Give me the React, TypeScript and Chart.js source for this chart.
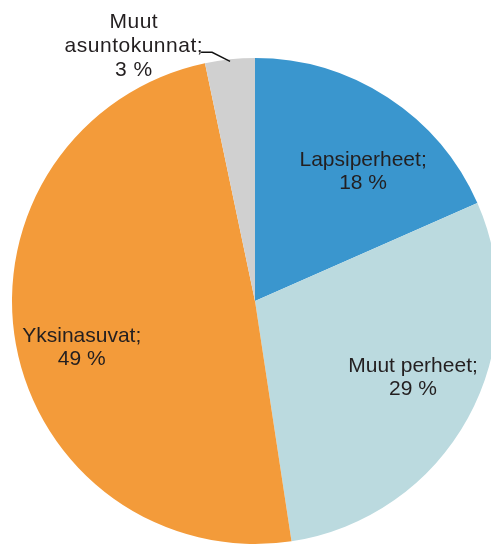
import React, { useEffect, useRef } from "react";
import { Chart, registerables } from "chart.js";

Chart.register(...registerables);

const categories = ["Lapsiperheet", "Muut perheet", "Yksinasuvat", "Muut asuntokunnat"];
const shares = [18.4, 29.2, 49.1, 3.3];
const percentLabels = ["18 %", "29 %", "49 %", "3 %"];
const sliceColors = ["#3A96CE", "#BBDADF", "#F39B3A", "#D0D0D0"];

// label layout: [angle shift in degrees from slice middle, radius factor]; null = outside with leader
const labelLayout: ([number, number] | null)[] = [[6.4, 0.699], [-3.55, 0.719], [-4.4, 0.737], null];

const FONT = '21px "Liberation Sans", Arial, sans-serif';
const TEXT_COLOR = "#231F20";

const labelPlugin = {
  id: "sliceLabels",
  afterDatasetsDraw(chart: any) {
    const ctx: CanvasRenderingContext2D = chart.ctx;
    const meta = chart.getDatasetMeta(0);
    ctx.save();
    ctx.font = FONT;
    ctx.fillStyle = TEXT_COLOR;
    meta.data.forEach((arc: any, i: number) => {
      const p = arc.getProps(["x", "y", "startAngle", "endAngle", "outerRadius"], true);
      const mid = (p.startAngle + p.endAngle) / 2;
      const layout = labelLayout[i];
      if (layout) {
        const a = mid + (layout[0] * Math.PI) / 180;
        const r = p.outerRadius * layout[1];
        const lx = p.x + r * Math.cos(a);
        const ly = p.y + r * Math.sin(a);
        ctx.textAlign = "center";
        ctx.textBaseline = "alphabetic";
        ctx.fillText(categories[i] + ";", lx, ly - 4);
        ctx.fillText(percentLabels[i], lx, ly + 19);
      } else {
        const er = p.outerRadius - 2;
        const ex = p.x + er * Math.cos(mid);
        const ey = p.y + er * Math.sin(mid);
        const elx = ex - 18;
        const ely = ey - 9;
        const sx = elx - 11;
        ctx.strokeStyle = "#111";
        ctx.lineWidth = 1.4;
        ctx.beginPath();
        ctx.moveTo(sx, ely);
        ctx.lineTo(elx, ely);
        ctx.lineTo(ex, ey);
        ctx.stroke();
        const words = categories[i].split(" ");
        const lines = [words[0], words.slice(1).join(" ") + ";", percentLabels[i]];
        (ctx as any).letterSpacing = "0.5px";
        const w = ctx.measureText(lines[1]).width;
        const cx = sx + 2 - w / 2;
        ctx.textAlign = "center";
        ctx.textBaseline = "alphabetic";
        ctx.fillText(lines[0], cx, ely - 24);
        ctx.fillText(lines[1], cx, ely);
        ctx.fillText(lines[2], cx, ely + 24);
        (ctx as any).letterSpacing = "0px";
      }
    });
    ctx.restore();
  },
};

export default function App() {
  const canvasRef = useRef<HTMLCanvasElement | null>(null);

  useEffect(() => {
    if (!canvasRef.current) return;
    const chart = new Chart(canvasRef.current, {
      type: "pie",
      data: {
        labels: categories,
        datasets: [
          {
            data: shares,
            backgroundColor: sliceColors,
            borderWidth: 0,
          },
        ],
      },
      options: {
        responsive: false,
        animation: false,
        radius: 243,
        layout: { padding: 0 },
        plugins: {
          legend: { display: false },
          tooltip: { enabled: false },
        },
      } as any,
      plugins: [labelPlugin],
    });
    return () => chart.destroy();
  }, []);

  return (
    <div
      style={{
        position: "fixed",
        left: 0,
        top: 0,
        width: 491,
        height: 545,
        overflow: "hidden",
        background: "#fff",
      }}
    >
      <canvas ref={canvasRef} width={510} height={602} style={{ display: "block" }} />
    </div>
  );
}
